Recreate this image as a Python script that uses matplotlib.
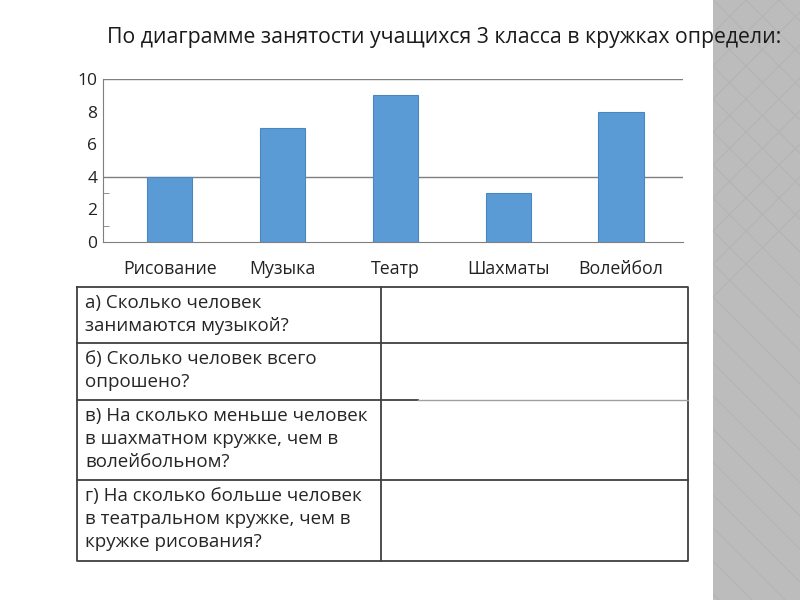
import matplotlib.pyplot as plt
from matplotlib.patches import Rectangle
import numpy as np

plt.rcParams['font.family'] = ['Open Sans', 'DejaVu Sans']

title = 'По диаграмме занятости учащихся 3 класса в кружках определи:'
circles = ['Рисование', 'Музыка', 'Театр', 'Шахматы', 'Волейбол']
pupils = [4, 7, 9, 3, 8]
yticks = [0, 2, 4, 6, 8, 10]
grid_levels = [4, 10]
minor_ticks = [1, 3]

questions = [
    'а) Сколько человек\nзанимаются музыкой?',
    'б) Сколько человек всего\nопрошено?',
    'в) На сколько меньше человек\nв шахматном кружке, чем в\nволейбольном?',
    'г) На сколько больше человек\nв театральном кружке, чем в\nкружке рисования?',
]
row_edges = [287, 343, 400, 480, 561]

W, H = 800, 600
fig = plt.figure(figsize=(8, 6), dpi=100)

def fx(x):
    return x / W

def fy(y):
    return 1 - y / H

# grey strip on the right with diamond pattern
bg = fig.add_axes([0, 0, 1, 1])
bg.set_xlim(0, W)
bg.set_ylim(H, 0)
bg.axis('off')
strip = Rectangle((713, 0), 87, 600, facecolor='#bcbcbc', edgecolor='none')
bg.add_patch(strip)
step = 33
for k in range(-25, 10):
    x0 = 713 + k * step
    for d in (1, -1):
        ln, = bg.plot([x0, x0 + d * 700], [0, 700], color='#b4b4b4', lw=0.8)
        ln.set_clip_path(strip)

fig.text(fx(107), fy(37), title, fontsize=15.3, color='#1a1a1a', va='center', ha='left')

# bar chart
ax = fig.add_axes([fx(103), fy(242), fx(683 - 103), (242 - 79) / H])
x = np.arange(len(circles))
ax.bar(x, pupils, width=0.4, color='#5b9bd5', edgecolor='#4a86bf', linewidth=0.8, zorder=3)
for g in grid_levels:
    ax.axhline(g, color='#7f7f7f', lw=1.0, zorder=2)
ax.set_ylim(0, 10)
ax.set_xlim(-0.59, 4.55)
ax.set_yticks(yticks)
ax.set_yticks(minor_ticks, minor=True)
ax.tick_params(axis='y', which='major', length=0, pad=4, labelsize=12.5, labelcolor='#222222')
ax.tick_params(axis='y', which='minor', length=4.5, direction='in', color='#7f7f7f')
ax.set_xticks(x)
ax.set_xticklabels(circles)
ax.tick_params(axis='x', length=0, pad=13, labelsize=12.8, labelcolor='#222222')
for s in ['top', 'right']:
    ax.spines[s].set_visible(False)
ax.spines['left'].set_color('#7f7f7f')
ax.spines['bottom'].set_color('#7f7f7f')
ax.set_facecolor('none')

# table with questions
left, mid, right = 77, 381, 688
tc = '#404040'
bg.plot([left, right, right, left, left],
        [row_edges[0], row_edges[0], row_edges[-1], row_edges[-1], row_edges[0]],
        color=tc, lw=1.3)
bg.plot([mid, mid], [row_edges[0], row_edges[-1]], color=tc, lw=1.3)
for i, y in enumerate(row_edges[1:-1]):
    if i == 1:
        bg.plot([left, 418], [y, y], color=tc, lw=1.3)
        bg.plot([418, right], [y, y], color='#a0a0a0', lw=1.0)
    else:
        bg.plot([left, right], [y, y], color=tc, lw=1.3)
for q, y in zip(questions, row_edges[:-1]):
    bg.text(85, y + 7, q, fontsize=13.5, color='#262626', va='top', ha='left',
            linespacing=1.37)

fig.savefig('out.png', dpi=100)
